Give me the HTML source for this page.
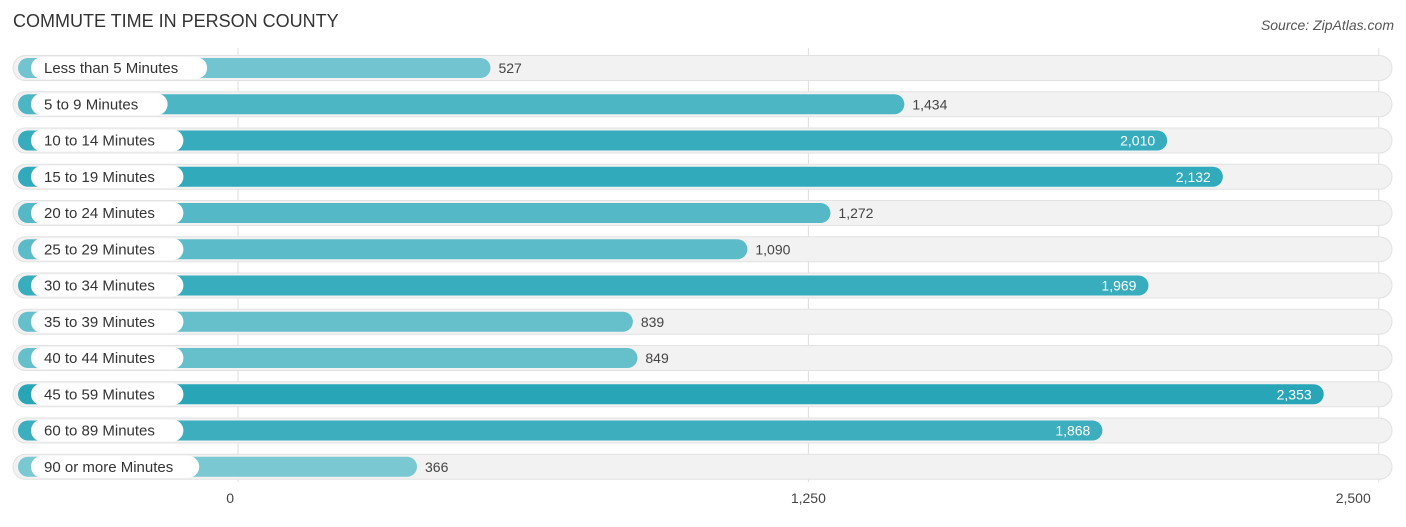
<!DOCTYPE html>
<html><head><meta charset="utf-8"><style>
body{margin:0;background:#fff;width:1406px;height:522px;overflow:hidden;font-family:"Liberation Sans",sans-serif}
</style></head><body>
<svg width="1406" height="522">
<text x="13" y="27" font-size="18" fill="#333">COMMUTE TIME IN PERSON COUNTY</text>
<text x="1394" y="30" font-size="14" fill="#555" font-style="italic" text-anchor="end">Source: ZipAtlas.com</text>
<g id="grid"></g><g id="rows"></g><g id="ticks"></g>
</svg>
<script>
const categories=["Less than 5 Minutes","5 to 9 Minutes","10 to 14 Minutes","15 to 19 Minutes","20 to 24 Minutes","25 to 29 Minutes","30 to 34 Minutes","35 to 39 Minutes","40 to 44 Minutes","45 to 59 Minutes","60 to 89 Minutes","90 or more Minutes"];
const values=[527,1434,2010,2132,1272,1090,1969,839,849,2353,1868,366];
const tickValues=[0,1250,2500];
const tickLabels=["0","1,250","2,500"];
const NS="http://www.w3.org/2000/svg";
const x=v=>238+v*0.4563;
const rowY=i=>68+i*36.25;
const maxV=Math.max(...values);
function mk(tag,attrs,parent){const e=document.createElementNS(NS,tag);for(const k in attrs)e.setAttribute(k,attrs[k]);parent.appendChild(e);return e;}
const grid=document.getElementById('grid'),rows=document.getElementById('rows'),ticks=document.getElementById('ticks');
tickValues.forEach((t,i)=>{
 const l=mk('line',{x1:x(t),x2:x(t),y1:48,y2:482,stroke:'#ddd','stroke-width':1},grid);
 
 
 const tx=mk('text',{x:x(t),y:503,'font-size':14,fill:'#444','text-anchor':i===0?'end':(i===tickValues.length-1?'end':'middle'),dx:i===0?-4:(i===tickValues.length-1?-8:0)},ticks);
 tx.textContent=tickLabels[i];
 
 
});
function col(v){const t=v/maxV;const a=[136,206,215],b=[40,166,184];return `rgb(${a.map((c,k)=>Math.round(c+(b[k]-c)*t)).join(',')})`;}
values.forEach((v,i)=>{
 const cy=rowY(i);
 const bg=mk('rect',{x:13,y:cy-12.5,width:1379,height:25,rx:12.5,fill:'#f2f2f2',stroke:'#e2e2e2'},rows);
 
 
 const end=x(v)+12;
 const bar=mk('rect',{x:18,y:cy-10,width:end-18,height:20,rx:10,fill:col(v)},rows);
 
 
 const lw=categories[i].length*7.9+26;
 const pill=mk('rect',{x:31,y:cy-11,width:lw,height:22,rx:11,fill:'#fff'},rows);
 
 
 const lt=mk('text',{x:44,y:cy+5,'font-size':15,fill:'#333'},rows);
 lt.textContent=categories[i];
 
 
 const inside=v>1800;
 const vt=mk('text',{x:inside?end-12:end+8,y:cy+5,'font-size':14,fill:inside?'#fff':'#444','text-anchor':inside?'end':'start'},rows);
 vt.textContent=v.toLocaleString('en-US');
 
 
});
</script>
</body></html>
